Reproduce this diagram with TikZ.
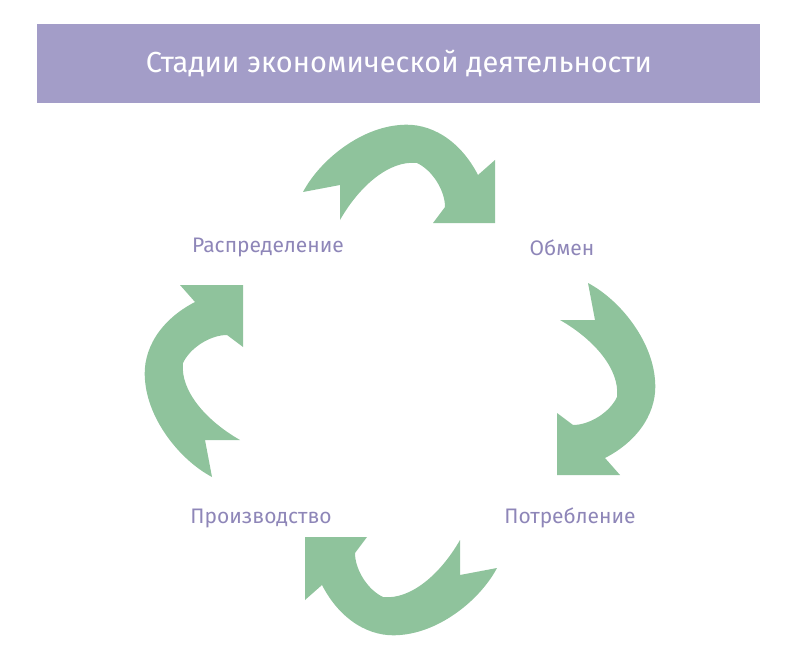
\documentclass[tikz,border=0pt]{standalone}
\usepackage{fontspec}
\setmainfont{Fira Sans}
\definecolor{barviolet}{HTML}{A39DC8}
\definecolor{labviolet}{HTML}{8E86B8}
\definecolor{arrowgreen}{HTML}{8FC39C}
\tikzset{
  stage/.style={text=labviolet, font=\fontsize{21}{24}\selectfont},
  cyclearrow/.style={fill=arrowgreen}
}
\begin{document}
\begin{tikzpicture}[x=1pt,y=-1pt]
\useasboundingbox (0,0) rectangle (808,671);

\fill [barviolet] (37,24) rectangle (760,103);
\node [text=white, font=\fontsize{29}{34}\selectfont] (title) at (399,63) {Стадии экономической деятельности};

\foreach \ang in {0,-90,-180,-270}
  \fill [cyclearrow, rotate around={\ang:(400,380)}]
    (303,192) -- (340,185) -- (340,220)
    .. controls (360,185) and (390,160) .. (417,163)
    .. controls (432,170) and (445,190) .. (445,207)
    -- (433,223) -- (495,223) -- (495,160) -- (478,175)
    .. controls (460,140) and (430,122) .. (400,125)
    .. controls (360,128) and (320,160) .. (303,192) -- cycle;

\node [stage] (distribution) at (268,248) {Распределение};
\node [stage] (exchange) at (562,248) {Обмен};
\node [stage] (production) at (261,518) {Производство};
\node [stage] (consumption) at (570,518) {Потребление};

\end{tikzpicture}
\end{document}
